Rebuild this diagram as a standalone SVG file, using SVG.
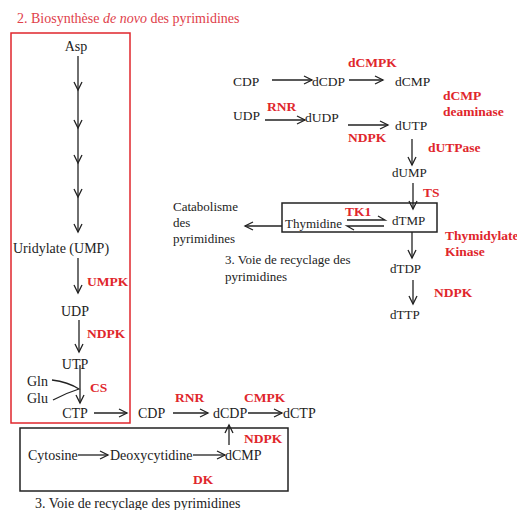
<svg xmlns="http://www.w3.org/2000/svg" width="517" height="510" viewBox="0 0 517 510" font-family="'Liberation Serif', 'DejaVu Serif', serif">
<style>
  text { font-family: "Liberation Serif", "Times New Roman", "DejaVu Serif", serif; font-size: 13.5px; fill: #222; }
  .red { fill: #e0262c; font-weight: bold; font-size: 13.5px; }
  .title { fill: #e0404a; font-size: 14px; }
  .sm { font-size: 13px; }
  .big { font-size: 14px; }
  .ln { stroke: #222; stroke-width: 1.3; fill: none; }
</style>
<defs>
  <marker id="ah" markerUnits="userSpaceOnUse" markerWidth="12" markerHeight="12" refX="9" refY="5" orient="auto">
    <path d="M1,1 L9,5 L1,9" fill="none" stroke="#222" stroke-width="1.3"/>
  </marker>
</defs>
<rect width="517" height="510" fill="#fff"/>

<text class="title" x="17" y="23">2. Biosynthèse <tspan font-style="italic">de novo</tspan> des pyrimidines</text>

<g id="box-denovo"><rect x="11" y="33" width="119" height="390" fill="none" stroke="#e0262c" stroke-width="1.5"/></g>
<g id="box-recyc1"><rect x="20" y="428" width="268" height="63" fill="none" stroke="#222" stroke-width="1.5"/></g>
<g id="box-recyc2"><rect x="282" y="203" width="155" height="29" fill="none" stroke="#222" stroke-width="1.5"/></g>

<g id="connectors">
  <line class="ln" x1="78" y1="56" x2="78" y2="90" marker-end="url(#ah)"/>
  <line class="ln" x1="78" y1="90" x2="78" y2="128" marker-end="url(#ah)"/>
  <line class="ln" x1="78" y1="128" x2="78" y2="163" marker-end="url(#ah)"/>
  <line class="ln" x1="78" y1="163" x2="78" y2="197" marker-end="url(#ah)"/>
  <line class="ln" x1="78" y1="197" x2="78" y2="232" marker-end="url(#ah)"/>
  <line class="ln" x1="78" y1="258" x2="78" y2="293" marker-end="url(#ah)"/>
  <line class="ln" x1="79" y1="320" x2="79" y2="352" marker-end="url(#ah)"/>
  <line class="ln" x1="80" y1="365" x2="80" y2="403" marker-end="url(#ah)"/>
  <path class="ln" d="M52,380 Q68,382 79,389 Q66,393 53,400"/>
  <line class="ln" x1="94" y1="413" x2="127" y2="413" marker-end="url(#ah)"/>
  <line class="ln" x1="173" y1="413" x2="208" y2="413" marker-end="url(#ah)"/>
  <line class="ln" x1="248" y1="413" x2="282" y2="413" marker-end="url(#ah)"/>
  <line class="ln" x1="229" y1="445" x2="229" y2="425" marker-end="url(#ah)"/>
  <line class="ln" x1="78" y1="455" x2="108" y2="455" marker-end="url(#ah)"/>
  <line class="ln" x1="193" y1="455" x2="225" y2="455" marker-end="url(#ah)"/>
  <line class="ln" x1="272" y1="80" x2="312" y2="80" marker-end="url(#ah)"/>
  <line class="ln" x1="349" y1="80" x2="383" y2="80" marker-end="url(#ah)"/>
  <line class="ln" x1="265" y1="120" x2="305" y2="120" marker-end="url(#ah)"/>
  <line class="ln" x1="348" y1="125" x2="388" y2="125" marker-end="url(#ah)"/>
  <line class="ln" x1="412" y1="139" x2="412" y2="165" marker-end="url(#ah)"/>
  <line class="ln" x1="413" y1="183" x2="413" y2="209" marker-end="url(#ah)"/>
  <line class="ln" x1="412" y1="232" x2="412" y2="258" marker-end="url(#ah)"/>
  <line class="ln" x1="413" y1="280" x2="413" y2="304" marker-end="url(#ah)"/>
  <line class="ln" x1="282" y1="226" x2="245" y2="226" marker-end="url(#ah)"/>
  <path class="ln" d="M347,220 L385,220 L378,216"/>
  <path class="ln" d="M384,226 L347,226 L354,230"/>
</g>

<g id="n-asp"><text x="76" y="51" text-anchor="middle" class="big">Asp</text></g>
<g id="n-ump"><text x="13" y="253" class="big">Uridylate (UMP)</text></g>
<g id="l-umpk"><text x="87" y="286" class="red">UMPK</text></g>
<g id="n-udp"><text x="75" y="316" text-anchor="middle" class="big">UDP</text></g>
<g id="l-ndpk1"><text x="87" y="338" class="red">NDPK</text></g>
<g id="n-utp"><text x="75" y="369" text-anchor="middle" class="big">UTP</text></g>
<g id="n-gln"><text x="27" y="386" class="big">Gln</text></g>
<g id="n-glu"><text x="27" y="403" class="big">Glu</text></g>
<g id="l-cs"><text x="90" y="392" class="red">CS</text></g>
<g id="n-ctp"><text x="75" y="418" text-anchor="middle" class="big">CTP</text></g>
<g id="n-cdp2"><text x="138" y="418" class="big">CDP</text></g>
<g id="l-rnr2"><text x="175" y="402" class="red">RNR</text></g>
<g id="n-dcdp2"><text x="213" y="418" class="big">dCDP</text></g>
<g id="l-cmpk"><text x="244" y="402" class="red">CMPK</text></g>
<g id="n-dctp"><text x="283" y="418" class="big">dCTP</text></g>
<g id="l-ndpk2"><text x="244" y="443" class="red">NDPK</text></g>
<g id="n-cytosine"><text x="28" y="460" class="big">Cytosine</text></g>
<g id="n-deoxycytidine"><text x="110" y="460" class="big">Deoxycytidine</text></g>
<g id="n-dcmp2"><text x="225" y="460" class="big">dCMP</text></g>
<g id="l-dk"><text x="193" y="484" class="red">DK</text></g>
<text x="35" y="508" class="big">3. Voie de recyclage  des pyrimidines</text>

<g id="l-dcmpk"><text x="348" y="67" class="red">dCMPK</text></g>
<g id="n-cdp1"><text x="233" y="86">CDP</text></g>
<g id="n-dcdp1"><text x="312" y="86">dCDP</text></g>
<g id="n-dcmp1"><text x="395" y="86">dCMP</text></g>
<g id="l-deaminase"><text x="443" y="100" class="red">dCMP</text><text x="443" y="116" class="red">deaminase</text></g>
<g id="n-udp1"><text x="233" y="120">UDP</text></g>
<g id="l-rnr1"><text x="267" y="111" class="red">RNR</text></g>
<g id="n-dudp"><text x="305" y="122">dUDP</text></g>
<g id="n-dutp"><text x="395" y="130">dUTP</text></g>
<g id="l-ndpk3"><text x="348" y="142" class="red" font-size="12px">NDPK</text></g>
<g id="l-dutpase"><text x="428" y="152" class="red">dUTPase</text></g>
<g id="n-dump"><text x="392" y="177" class="sm">dUMP</text></g>
<g id="l-ts"><text x="423" y="197" class="red">TS</text></g>
<g id="n-thymidine"><text x="285" y="228" class="sm">Thymidine</text></g>
<g id="l-tk1"><text x="345" y="216" class="red">TK1</text></g>
<g id="n-dtmp"><text x="392" y="225" class="sm">dTMP</text></g>
<g id="n-catabolisme"><text x="173" y="211" class="sm">Catabolisme</text><text x="173" y="227" class="sm">des</text><text x="173" y="243" class="sm">pyrimidines</text></g>
<g id="l-thymidylate"><text x="445" y="240" class="red">Thymidylate</text><text x="445" y="256" class="red">Kinase</text></g>
<g id="n-dtdp"><text x="390" y="273" class="sm">dTDP</text></g>
<g id="l-ndpk4"><text x="434" y="297" class="red">NDPK</text></g>
<g id="n-dttp"><text x="390" y="319" class="sm">dTTP</text></g>
<text x="225" y="264" class="sm">3. Voie de recyclage des</text>
<text x="225" y="281" class="sm">pyrimidines</text>
</svg>
